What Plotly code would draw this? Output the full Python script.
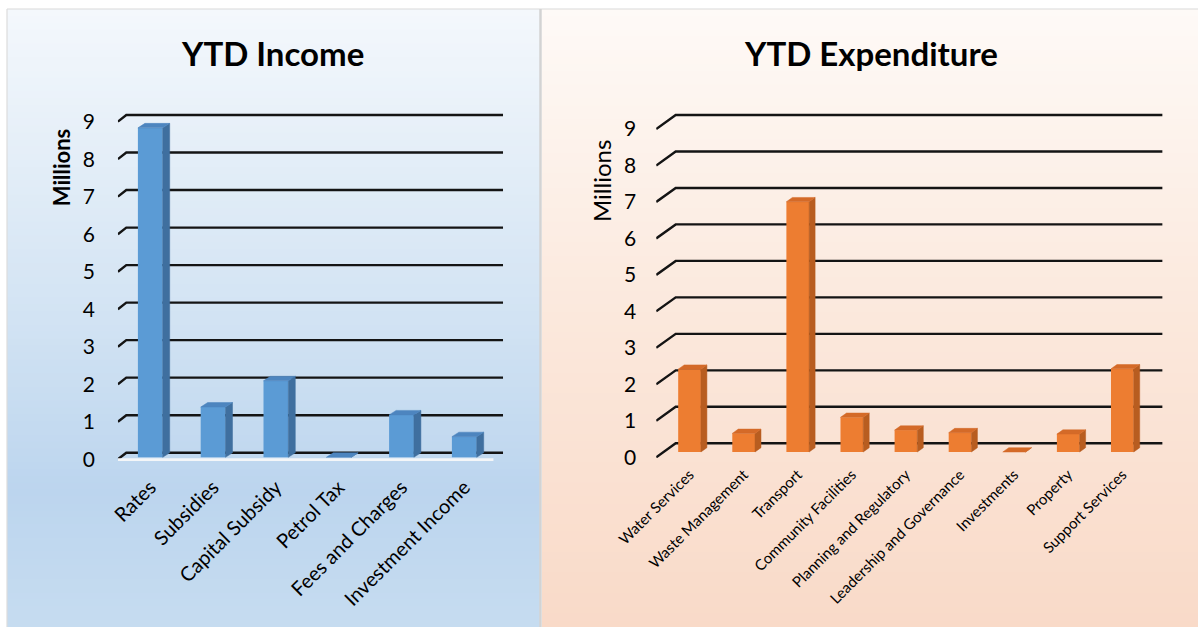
import plotly.graph_objects as go

# ---------------- data ----------------
income_categories = ["Rates", "Subsidies", "Capital Subsidy", "Petrol Tax",
                     "Fees and Charges", "Investment Income"]
income_values = [8.78, 1.34, 2.04, 0.0, 1.13, 0.55]

expenditure_categories = ["Water Services", "Waste Management", "Transport",
                          "Community Facilities", "Planning and Regulatory",
                          "Leadership and Governance", "Investments", "Property",
                          "Support Services"]
expenditure_values = [2.27, 0.51, 6.86, 0.95, 0.60, 0.53, 0.0, 0.49, 2.28]

value_ticks = [0, 1, 2, 3, 4, 5, 6, 7, 8, 9]

# ---------------- geometry / style ----------------
W, H = 1198, 627
FONT = "Lato"


def px_x(p):
    return p / W


def px_y(p):
    return 1 - p / H


def hex_to_rgb(h):
    h = h.lstrip("#")
    return tuple(int(h[i:i + 2], 16) for i in (0, 2, 4))


def interp(stops, t):
    for (t0, c0), (t1, c1) in zip(stops[:-1], stops[1:]):
        if t0 <= t <= t1:
            a = (t - t0) / (t1 - t0) if t1 > t0 else 0
            r0, r1 = hex_to_rgb(c0), hex_to_rgb(c1)
            rgb = [round(r0[k] + (r1[k] - r0[k]) * a) for k in range(3)]
            return "rgb(%d,%d,%d)" % tuple(rgb)
    return stops[-1][1]


def gradient(x0, x1, y0, y1, stops, n=90):
    out = []
    for k in range(n):
        t0, t1 = k / n, (k + 1) / n
        c = interp(stops, (t0 + t1) / 2)
        ya = y0 + (y1 - y0) * t0
        yb = min(y1, y0 + (y1 - y0) * t1 + 0.8)
        out.append(dict(type="rect", xref="paper", yref="paper",
                        x0=px_x(x0), x1=px_x(x1), y0=px_y(yb), y1=px_y(ya),
                        fillcolor=c, line=dict(width=0), layer="below"))
    return out


charts = [
    dict(name="income", cats=income_categories, vals=income_values,
         xa="x", ya="y", xkey="xaxis", ykey="yaxis",
         front_left=117.9, cat_px=62.8, unit_px=37.52, floor_y=459.3,
         gdx_px=8.4, gdy_px=6.6, off_x_px=1.0, off_y_px=2.0,
         bar_w=0.395, bdx_px=7.0, bdy_px=4.5, yr=(-0.2, 9.4),
         front="#5b9bd5", side="#3f6f9f", top="#4d85bf",
         xfont=20, floor=True, ystand=22),
    dict(name="exp", cats=expenditure_categories, vals=expenditure_values,
         xa="x2", ya="y2", xkey="xaxis2", ykey="yaxis2",
         front_left=656.2, cat_px=54.1, unit_px=36.48, floor_y=457.3,
         gdx_px=19.5, gdy_px=14.0, off_x_px=6.3, off_y_px=5.3,
         bar_w=0.42, bdx_px=6.0, bdy_px=4.3, yr=(-0.02, 9.6),
         front="#ed7d31", side="#b85d20", top="#d46a28",
         xfont=15, floor=False, ystand=19),
]

shapes = []
# panel backgrounds
shapes += gradient(7, 540, 9, 627, [(0, "#f4f8fc"), (0.5, "#d2e3f3"),
                                    (0.78, "#bcd5ee"), (1, "#c6dcf0")])
shapes += gradient(542, 1198, 9, 627, [(0, "#fefaf7"), (0.5, "#fbe8dc"),
                                       (1, "#f9dac8")])
# panel borders
shapes.append(dict(type="line", xref="paper", yref="paper", x0=px_x(7), x1=1,
                   y0=px_y(9), y1=px_y(9), line=dict(color="#d9d9d9", width=1.2),
                   layer="below"))
shapes.append(dict(type="line", xref="paper", yref="paper", x0=px_x(7), x1=px_x(7),
                   y0=px_y(9), y1=0, line=dict(color="#dcdcdc", width=1.2),
                   layer="below"))
shapes.append(dict(type="line", xref="paper", yref="paper", x0=px_x(540.5), x1=px_x(540.5),
                   y0=px_y(9), y1=0, line=dict(color="#d3d3d3", width=2.5),
                   layer="below"))

fig = go.Figure()
layout_axes = {}

for ch in charts:
    n = len(ch["cats"])
    gdx = ch["gdx_px"] / ch["cat_px"]
    gdy = ch["gdy_px"] / ch["unit_px"]
    ox = ch["off_x_px"] / ch["cat_px"]
    oy = ch["off_y_px"] / ch["unit_px"]
    bdx = ch["bdx_px"] / ch["cat_px"]
    bdy = ch["bdy_px"] / ch["unit_px"]
    xlo, xhi = -0.5, n - 0.5
    ylo, yhi = ch["yr"]

    # back-wall gridlines with oblique side segment
    for v in value_ticks:
        path = "M %f,%f L %f,%f L %f,%f" % (xlo, v, xlo + gdx, v + gdy, xhi + gdx, v + gdy)
        shapes.append(dict(type="path", xref=ch["xa"], yref=ch["ya"], path=path,
                           line=dict(color="#141414", width=2.4), layer="below"))
    if ch["floor"]:
        shapes.append(dict(type="line", xref=ch["xa"], yref=ch["ya"],
                           x0=xlo, x1=xhi - 0.02, y0=-0.01, y1=-0.01,
                           line=dict(color="#f4f6f8", width=2.6), layer="below"))

    xs = [i + ox for i in range(n)]
    fig.add_trace(go.Bar(x=xs, y=ch["vals"], base=oy, width=ch["bar_w"],
                         marker=dict(color=ch["front"], line=dict(width=0)),
                         xaxis=ch["xa"], yaxis=ch["ya"], showlegend=False,
                         hoverinfo="skip"))
    sx, sy, tx, ty = [], [], [], []
    hw = ch["bar_w"] / 2
    for x, v in zip(xs, ch["vals"]):
        xl, xr = x - hw, x + hw
        b, t = oy, oy + v
        sx += [xr, xr + bdx, xr + bdx, xr, xr, None]
        sy += [b, b + bdy, t + bdy, t, b, None]
        tx += [xl, xl + bdx, xr + bdx, xr, xl, None]
        ty += [t, t + bdy, t + bdy, t, t, None]
    fig.add_trace(go.Scatter(x=sx, y=sy, fill="toself", fillcolor=ch["side"],
                             mode="lines", line=dict(color=ch["side"], width=0.5),
                             xaxis=ch["xa"], yaxis=ch["ya"], showlegend=False,
                             hoverinfo="skip"))
    fig.add_trace(go.Scatter(x=tx, y=ty, fill="toself", fillcolor=ch["top"],
                             mode="lines", line=dict(color=ch["top"], width=0.5),
                             xaxis=ch["xa"], yaxis=ch["ya"], showlegend=False,
                             hoverinfo="skip"))

    # axis placement in pixels
    x0p = ch["front_left"]
    x1p = ch["front_left"] + (xhi - xlo + gdx) * ch["cat_px"]
    yb = ch["floor_y"] - ylo * ch["unit_px"]
    yt = ch["floor_y"] - yhi * ch["unit_px"]
    layout_axes[ch["xkey"]] = dict(
        domain=[px_x(x0p), px_x(x1p)], range=[xlo, xhi + gdx],
        tickmode="array", tickvals=xs, ticktext=ch["cats"], tickangle=-45,
        tickfont=dict(family=FONT, size=ch["xfont"], color="#000000"),
        showgrid=False, zeroline=False, showline=False, ticks="",
        anchor=ch["ya"], fixedrange=True, ticklabelstandoff=4, automargin=False)
    layout_axes[ch["ykey"]] = dict(
        domain=[px_y(yb), px_y(yt)], range=[ylo, yhi],
        tickmode="array", tickvals=value_ticks,
        ticktext=[str(v) for v in value_ticks],
        tickfont=dict(family=FONT, size=21, color="#000000"),
        showgrid=False, zeroline=False, showline=False, ticks="",
        anchor=ch["xa"], fixedrange=True, ticklabelstandoff=ch["ystand"],
        automargin=False)

annotations = [
    dict(text="<b>YTD Income</b>", x=px_x(272.7), y=px_y(53), xref="paper", yref="paper",
         showarrow=False, xanchor="center", yanchor="middle",
         font=dict(family=FONT, size=33, color="#000000")),
    dict(text="<b>YTD Expenditure</b>", x=px_x(871), y=px_y(53), xref="paper", yref="paper",
         showarrow=False, xanchor="center", yanchor="middle",
         font=dict(family=FONT, size=33, color="#000000")),
    dict(text="<b>Millions</b>", x=px_x(61.2), y=px_y(168), xref="paper", yref="paper",
         showarrow=False, xanchor="center", yanchor="middle", textangle=-90,
         font=dict(family=FONT, size=22, color="#000000")),
    dict(text="Millions", x=px_x(601), y=px_y(181), xref="paper", yref="paper",
         showarrow=False, xanchor="center", yanchor="middle", textangle=-90,
         font=dict(family=FONT, size=24, color="#000000")),
]

fig.update_layout(
    width=W, height=H, margin=dict(l=0, r=0, t=0, b=0, pad=0, autoexpand=False),
    paper_bgcolor="#ffffff", plot_bgcolor="rgba(0,0,0,0)",
    showlegend=False, barmode="overlay", shapes=shapes, annotations=annotations,
    **layout_axes)

fig.write_html("out.html", config={"displayModeBar": False, "staticPlot": True},
               post_script="document.body.style.margin='0px';"
                           "document.body.style.overflow='hidden';")
